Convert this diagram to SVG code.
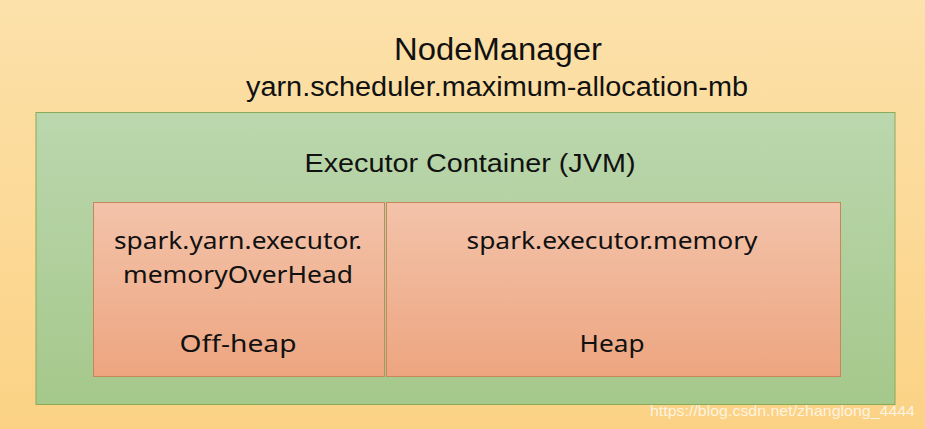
<svg xmlns="http://www.w3.org/2000/svg" width="925" height="429" viewBox="0 0 925 429">
<defs>
<linearGradient id="bg" x1="0" y1="0" x2="0" y2="1"><stop offset="0" stop-color="#FCE1AA"/><stop offset="1" stop-color="#FBD285"/></linearGradient>
<linearGradient id="gr" x1="0" y1="0" x2="0" y2="1"><stop offset="0" stop-color="#BBD7AE"/><stop offset="1" stop-color="#A5C88B"/></linearGradient>
<linearGradient id="rd" x1="0" y1="0" x2="0" y2="1"><stop offset="0" stop-color="#F3C3AA"/><stop offset="1" stop-color="#EDA580"/></linearGradient>
<style>
.t{font-family:"Liberation Sans",Arial,sans-serif;fill:#111;text-anchor:middle}
.y{font-family:"Noto Sans","DejaVu Sans",sans-serif;fill:#111;text-anchor:middle;font-size:24px}
.box{fill:url(#rd);stroke:#C8875A;stroke-width:1}
</style>
</defs>
<rect x="0" y="0" width="925" height="429" fill="url(#bg)"/>
<g id="nodemanager">
<text class="t" x="498" y="60" font-size="32" textLength="208" lengthAdjust="spacingAndGlyphs">NodeManager</text>
<text class="t" x="497" y="96" font-size="27" textLength="502" lengthAdjust="spacingAndGlyphs">yarn.scheduler.maximum-allocation-mb</text>
</g>
<g id="container">
<rect x="36" y="112.5" width="859" height="292" fill="url(#gr)" stroke="#8AAA5A" stroke-width="1"/>
<text class="t" x="470" y="172" font-size="25" textLength="331" lengthAdjust="spacingAndGlyphs">Executor Container (JVM)</text>
</g>
<g id="offheap">
<rect class="box" x="93.5" y="202.5" width="291" height="174"/>
<text class="y" x="238" y="249" textLength="248" lengthAdjust="spacingAndGlyphs">spark.yarn.executor.</text>
<text class="y" x="238" y="283" textLength="230" lengthAdjust="spacingAndGlyphs">memoryOverHead</text>
<text class="y" x="238" y="352" textLength="117" lengthAdjust="spacingAndGlyphs">Off-heap</text>
</g>
<g id="heap">
<rect class="box" x="386.5" y="202.5" width="454" height="174"/>
<text class="y" x="612" y="249" textLength="291" lengthAdjust="spacingAndGlyphs">spark.executor.memory</text>
<text class="y" x="612" y="352" textLength="65" lengthAdjust="spacingAndGlyphs">Heap</text>
</g>
<g id="connectors"/>
<text x="915" y="416" font-family="Liberation Sans,Arial,sans-serif" font-size="15" fill="#FFFFFF" fill-opacity="0.75" text-anchor="end" textLength="265" lengthAdjust="spacingAndGlyphs">https://blog.csdn.net/zhanglong_4444</text>
</svg>
